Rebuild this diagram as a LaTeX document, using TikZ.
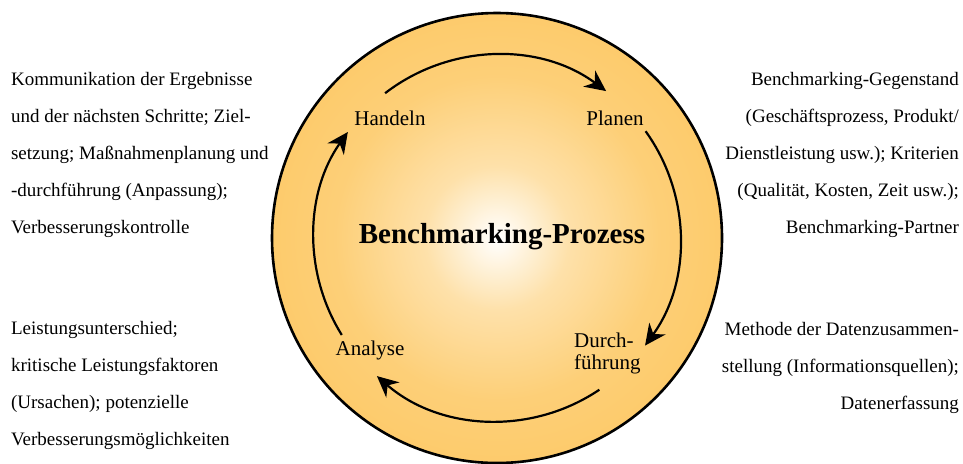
\documentclass[tikz,border=0pt]{standalone}
\usepackage{fontspec}
\setmainfont{Liberation Serif}
\usetikzlibrary{arrows.meta,calc}
\definecolor{sun}{RGB}{253,203,108}
\pgfdeclareradialshading{sunglow}{\pgfpoint{0bp}{0bp}}{color(0bp)=(white); color(8bp)=(sun!58!white); color(18bp)=(sun!92!white); color(25bp)=(sun)}

\begin{document}
\begin{tikzpicture}[x = 0.5pt, y = 0.5pt, line width = 1.1pt,
								disc/.style = {circle, draw, line width = 1.3pt, 
								shade, shading = sunglow, minimum size = 225pt, inner sep = 0pt},
								hub/.style = {font = \fontsize{14.5}{17}\selectfont\bfseries},
								phase/.style = {font = \fontsize{10.5}{11}\selectfont, 
								align = left, inner sep = 0pt},
								textblock/.style = {font = \fontsize{9.5}{18.5}\selectfont, 
								inner sep = 0pt},
								loopline/.style = {-{Stealth[length = 10.5pt, width = 10pt]}}]

				\useasboundingbox (0,0) rectangle (963,463);

				\node [disc] (disc) at (497,225) {};
				\node [hub] (hub) at (502,226) {Benchmarking-Prozess};

				\node [phase] (p_1) at (615,345) {Planen};
				\node [phase, anchor = west] (p_2) at (573,110) {Durch-\\führung};
				\node [phase] (p_3) at (370,113) {Analyse};
				\node [phase] (p_4) at (390,345) {Handeln};

				\coordinate (c_1) at ($(disc.center)+(127.7:183)$);
				\coordinate (c_2) at ($(disc.center)+(35.7:183)$);
				\coordinate (c_3) at ($(disc.center)+(-56:183)$);
				\coordinate (c_4) at ($(disc.center)+(-148:183)$);

				\draw [loopline] (c_1) arc (127.7:53.4:183);
				\draw [loopline] (c_2) arc (35.7:-36:183);
				\draw [loopline] (c_3) arc (-56:-131:183);
				\draw [loopline] (c_4) arc (-148:-215.4:183);

				\node [textblock, anchor = north west, align = left] (t_1) at (10,392)
				{Kommunikation der Ergebnisse\\und der nächsten Schritte; Ziel-\\setzung; Maßnahmenplanung und\\-durchführung (Anpassung);\\Verbesserungskontrolle};
				\node [textblock, anchor = north east, align = right] (t_2) at (960,392)
				{Benchmarking-Gegenstand\\(Geschäftsprozess, Produkt/\\Dienstleistung usw.); Kriterien\\(Qualität, Kosten, Zeit usw.);\\Benchmarking-Partner};
				\node [textblock, anchor = north east, align = right] (t_3) at (960,142)
				{Methode der Datenzusammen-\\stellung (Informationsquellen);\\Datenerfassung};
				\node [textblock, anchor = north west, align = left] (t_4) at (10,143)
				{Leistungsunterschied;\\kritische Leistungsfaktoren\\(Ursachen); potenzielle\\Verbesserungsmöglichkeiten};
			\end{tikzpicture}
\end{document}
